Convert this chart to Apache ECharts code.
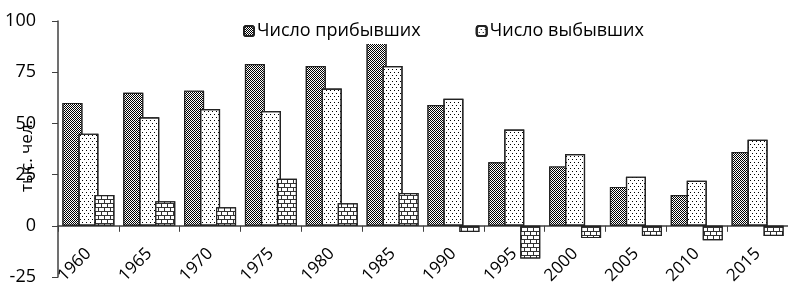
<!DOCTYPE html>
<html><head><meta charset="utf-8">
<script src="https://cdn.jsdelivr.net/npm/echarts@6/dist/echarts.min.js"></script>
<style>html,body{margin:0;padding:0;background:#fff}#c{width:788px;height:284px}</style>
</head><body><div id="c"></div>
<script>
const categories = ['1960','1965','1970','1975','1980','1985','1990','1995','2000','2005','2010','2015'];
const arrivals = [60, 65, 66, 79, 78, 94, 59, 31, 29, 19, 15, 36];
const departures = [45, 53, 57, 56, 67, 78, 62, 47, 35, 24, 22, 42];
const netMigration = [15, 12, 9, 23, 11, 16, -3, -16, -6, -5, -7, -5];
const seriesNames = ['Число прибывших', 'Число выбывших', 'Сальдо'];
const yTitle = 'тыс. чел.';

const FONT = 'Open Sans';
const chart = echarts.init(document.getElementById('c'), null, {renderer: 'canvas'});
chart.setOption({
  animation: false,
  backgroundColor: '#fff',
  textStyle: {fontFamily: FONT},
  legend: {
    data: [seriesNames[0], seriesNames[1]],
    left: 238, top: 18,
    padding: [4, 5, 4, 5],
    backgroundColor: '#fff',
    itemWidth: 10, itemHeight: 10, itemGap: 55,
    textStyle: {fontFamily: FONT, fontSize: 18, color: '#000', padding: [0,0,0,-2]},
    z: 10
  },
  grid: [
    {left: 58, right: 0, top: 21, bottom: 7, containLabel: false, outerBoundsMode: 'none'},
    {left: 58, right: 0, top: 21, bottom: 58, containLabel: false, outerBoundsMode: 'none'}
  ],
  xAxis: [
    {
      type: 'category', data: categories, gridIndex: 0,
      axisLine: {onZero: true, lineStyle: {color: '#404040', width: 1.5}},
      axisTick: {show: true, length: 6, lineStyle: {color: '#404040'}},
      axisLabel: {show: false}
    },
    {
      type: 'category', data: categories, gridIndex: 1,
      axisLine: {show: false}, axisTick: {show: false},
      axisLabel: {rotate: 45, fontFamily: FONT, fontSize: 17, color: '#000', margin: 25}
    }
  ],
  yAxis: [
    {
      type: 'value', min: -25, max: 100, interval: 25, gridIndex: 0,
      name: yTitle, nameLocation: 'middle', nameGap: 22, nameRotate: 90, nameMoveOverlap: false,
      nameTextStyle: {fontFamily: FONT, fontSize: 17, color: '#000', padding: [0, 0, 0, -14]},
      splitLine: {show: false},
      axisLine: {show: true, lineStyle: {color: '#404040', width: 1.5}},
      axisTick: {show: true, length: 6, lineStyle: {color: '#404040'}},
      axisLabel: {fontFamily: FONT, fontSize: 18, color: '#000', margin: 22}
    },
    {
      type: 'value', gridIndex: 1, min: 0, max: 1, show: false
    }
  ],
  series: [
    {
      name: seriesNames[0], type: 'bar', data: arrivals,
      barWidth: 20, barGap: '-20%',
      itemStyle: {
        color: '#000', borderColor: '#222', borderWidth: 1.2,
        decal: {symbol: 'rect', symbolSize: 1, color: '#fff',
          dashArrayX: [[1, 1], [0, 1, 1, 0]], dashArrayY: [1, 0]}
      }
    },
    {
      name: seriesNames[1], type: 'bar', data: departures,
      barWidth: 20,
      itemStyle: {
        color: '#fff', borderColor: '#222', borderWidth: 1.2,
        decal: {symbol: 'rect', symbolSize: 1, color: '#000',
          dashArrayX: [[1, 3], [0, 2, 1, 1]], dashArrayY: [1, 2]}
      }
    },
    {
      name: seriesNames[2], type: 'bar', data: netMigration,
      barWidth: 20,
      itemStyle: {
        color: '#333', borderColor: '#222', borderWidth: 1.2,
        decal: {symbol: 'rect', symbolSize: 1, color: '#fff',
          dashArrayX: [[5, 1], [2, 1, 3, 0]], dashArrayY: [3, 1]}
      }
    }
  ]
});
</script></body></html>
